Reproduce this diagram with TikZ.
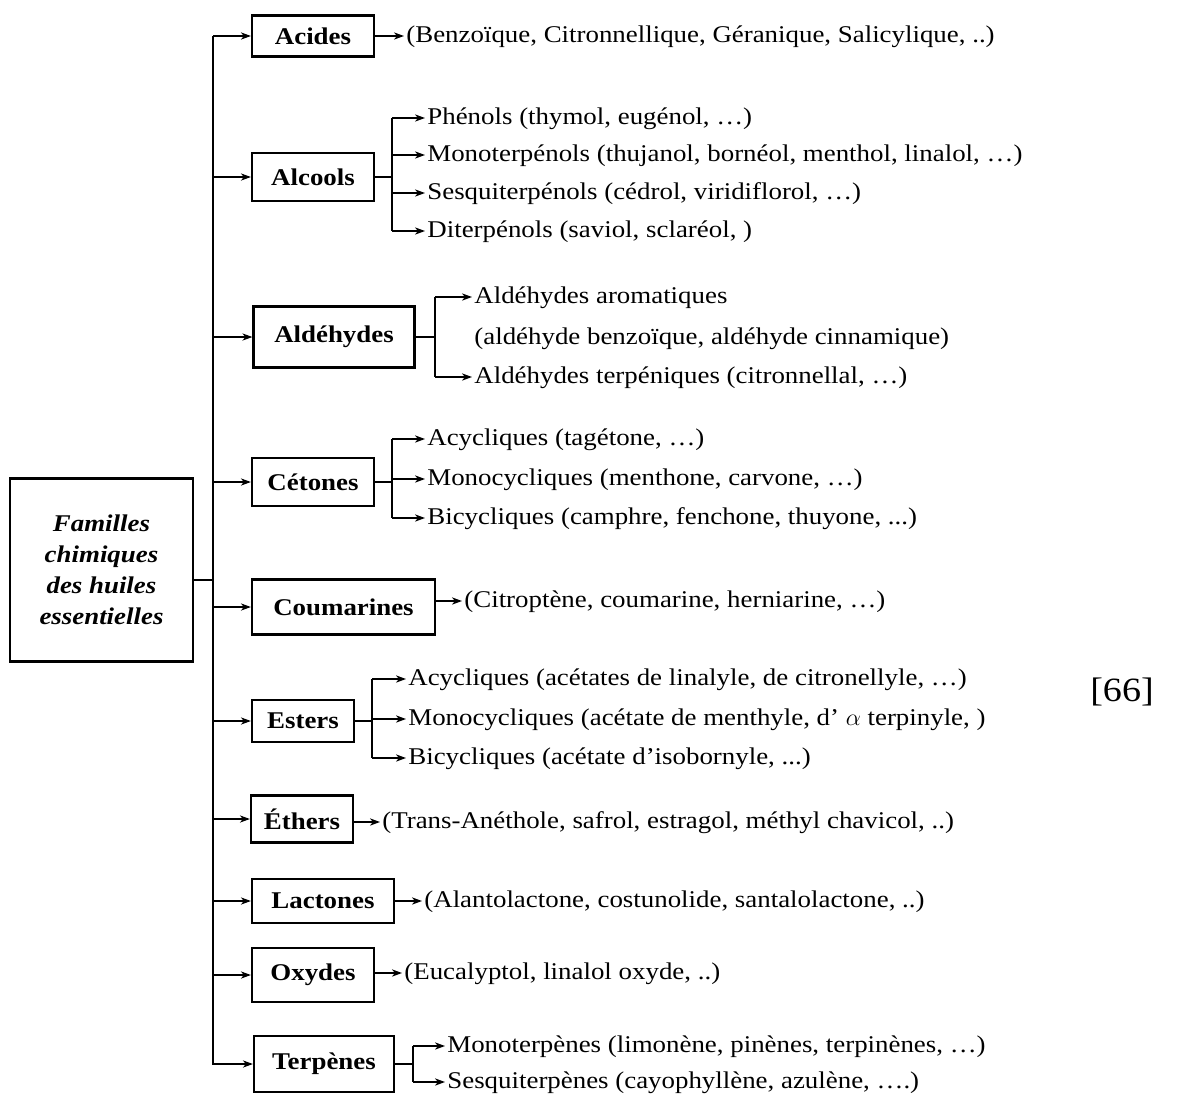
\documentclass[12pt,tikz,border=0pt]{standalone}
\usepackage{fontspec}
\setmainfont{Liberation Serif}[FakeStretch=1.12]
\usetikzlibrary{arrows.meta}
\tikzset{every picture/.style={x=0.5pt,y=-0.5pt}}
\tikzset{famille/.style={draw,line width=1.1pt,font=\bfseries,inner sep=1pt}}
\tikzset{item/.style={anchor=west,inner sep=1pt,text height=9pt,text depth=3pt}}
\tikzset{edge/.style={-{Stealth[length=5pt,width=3.6pt,inset=1.5pt]},line width=0.6pt}}
\tikzset{trait/.style={line width=0.6pt}}

\begin{document}
\begin{tikzpicture}
\useasboundingbox (0,0) rectangle (1178,1098);

\node [famille,font=\bfseries\itshape,align=center,minimum width=91.5pt,minimum height=91.5pt] (fam) at (101.5,570)
  {Familles\\[1pt]chimiques\\[1pt]des huiles\\[1pt]essentielles};

\coordinate (ttop) at (213,36);
\coordinate (tbot) at (213,1065);
\coordinate (rac) at (213,580);

\node [famille,minimum width=61pt,minimum height=20.5pt] (acides) at (313,36) {Acides};
\node [famille,minimum width=61pt,minimum height=24pt] (alcools) at (313,177) {Alcools};
\node [famille,minimum width=80.5pt,minimum height=30.5pt] (aldehydes) at (334,337) {Aldéhydes};
\node [famille,minimum width=61pt,minimum height=24pt] (cetones) at (313,482) {Cétones};
\node [famille,minimum width=91.5pt,minimum height=27.5pt] (coumarines) at (343.5,607) {Coumarines};
\node [famille,minimum width=51pt,minimum height=21pt] (esters) at (303,721) {Esters};
\node [famille,minimum width=51pt,minimum height=23.5pt] (ethers) at (302,819) {Éthers};
\node [famille,minimum width=71pt,minimum height=22pt] (lactones) at (323,901) {Lactones};
\node [famille,minimum width=61pt,minimum height=27pt] (oxydes) at (313,975) {Oxydes};
\node [famille,minimum width=70pt,minimum height=28pt] (terpenes) at (324,1064) {Terpènes};

\draw [trait] (fam.east |- rac) -- (rac);
\draw [trait] (ttop) -- (tbot);
\foreach \b in {acides,alcools,aldehydes,cetones,coumarines,esters,ethers,lactones,oxydes,terpenes}
  \draw [edge] (ttop |- \b.west) -- (\b.west);

\node [item] (acid) at (404,36) {(Benzoïque, Citronnellique, Géranique, Salicylique, ..)};
\draw [edge] (acides.east) -- (acid.west);

\coordinate (alcb) at (392,177);
\node [item] (phen) at (425,118) {Phénols (thymol, eugénol, …)};
\node [item] (mono) at (425,155) {Monoterpénols (thujanol, bornéol, menthol, linalol, …)};
\node [item] (sesq) at (425,193) {Sesquiterpénols (cédrol, viridiflorol, …)};
\node [item] (dite) at (425,231) {Diterpénols (saviol, sclaréol, )};
\draw [trait] (alcools.east) -- (alcb);
\draw [trait] (alcb |- phen.west) -- (alcb |- dite.west);
\foreach \i in {phen,mono,sesq,dite}
  \draw [edge] (alcb |- \i.west) -- (\i.west);

\coordinate (aldb) at (435,337);
\node [item] (arom) at (472,297) {Aldéhydes aromatiques};
\node [item] (benz) at (472,338) {(aldéhyde benzoïque, aldéhyde cinnamique)};
\node [item] (terp) at (472,377) {Aldéhydes terpéniques (citronnellal, …)};
\draw [trait] (aldehydes.east) -- (aldb);
\draw [trait] (aldb |- arom.west) -- (aldb |- terp.west);
\foreach \i in {arom,terp}
  \draw [edge] (aldb |- \i.west) -- (\i.west);

\coordinate (cetb) at (392,482);
\node [item] (cacy) at (425,439) {Acycliques (tagétone, …)};
\node [item] (cmon) at (425,479) {Monocycliques (menthone, carvone, …)};
\node [item] (cbic) at (425,518) {Bicycliques (camphre, fenchone, thuyone, ...)};
\draw [trait] (cetones.east) -- (cetb);
\draw [trait] (cetb |- cacy.west) -- (cetb |- cbic.west);
\foreach \i in {cacy,cmon,cbic}
  \draw [edge] (cetb |- \i.west) -- (\i.west);

\node [item] (coum) at (462,601) {(Citroptène, coumarine, herniarine, …)};
\draw [edge] (coumarines.east |- coum.west) -- (coum.west);

\coordinate (estb) at (372,721);
\node [item] (eacy) at (406,679) {Acycliques (acétates de linalyle, de citronellyle, …)};
\node [item] (emon) at (406,719) {Monocycliques (acétate de menthyle, d’ $\alpha$ terpinyle, )};
\node [item] (ebic) at (406,758) {Bicycliques (acétate d’isobornyle, ...)};
\draw [trait] (esters.east) -- (estb);
\draw [trait] (estb |- eacy.west) -- (estb |- ebic.west);
\foreach \i in {eacy,emon,ebic}
  \draw [edge] (estb |- \i.west) -- (\i.west);

\node [item] (ethe) at (380,822) {(Trans-Anéthole, safrol, estragol, méthyl chavicol, ..)};
\draw [edge] (ethers.east |- ethe.west) -- (ethe.west);

\node [item] (lact) at (422,901) {(Alantolactone, costunolide, santalolactone, ..)};
\draw [edge] (lactones.east |- lact.west) -- (lact.west);

\node [item] (oxyd) at (402,973) {(Eucalyptol, linalol oxyde, ..)};
\draw [edge] (oxydes.east |- oxyd.west) -- (oxyd.west);

\coordinate (terb) at (413,1064);
\node [item] (tmon) at (445,1046) {Monoterpènes (limonène, pinènes, terpinènes, …)};
\node [item] (tses) at (445,1082) {Sesquiterpènes (cayophyllène, azulène, ….)};
\draw [trait] (terpenes.east) -- (terb);
\draw [trait] (terb |- tmon.west) -- (terb |- tses.west);
\foreach \i in {tmon,tses}
  \draw [edge] (terb |- \i.west) -- (\i.west);

\node [font=\fontsize{17}{20}\selectfont] (ref) at (1122,692) {[66]};
\end{tikzpicture}
\end{document}
